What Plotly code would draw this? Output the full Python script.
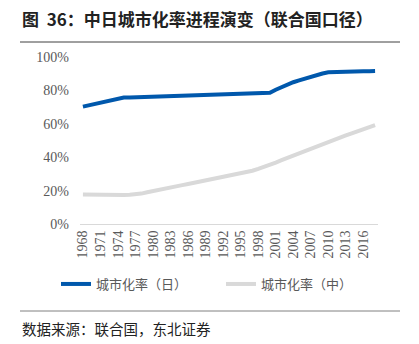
import plotly.graph_objects as go

years = list(range(1968, 2019))
japan = [70.3, 71.1, 71.9, 72.7, 73.4, 74.2, 74.9, 75.7, 75.8, 75.9,
         76.0, 76.1, 76.2, 76.3, 76.4, 76.5, 76.6, 76.7, 76.8, 76.9,
         77.1, 77.2, 77.3, 77.4, 77.6, 77.7, 77.9, 78.0, 78.1, 78.2,
         78.4, 78.5, 78.6, 80.4, 82.1, 83.6, 84.9, 86.0, 87.1, 88.2,
         89.2, 90.1, 90.8, 91.0, 91.2, 91.3, 91.4, 91.4, 91.5, 91.5, 91.6]
china = [17.6, 17.5, 17.4, 17.3, 17.3, 17.3, 17.3, 17.4, 17.5, 17.7,
         18.2, 19.0, 19.8, 20.5, 21.2, 21.9, 22.6, 23.3, 24.0, 24.7,
         25.4, 26.0, 26.6, 27.2, 27.8, 28.5, 29.2, 30.0, 30.9, 31.9,
         33.0, 34.1, 35.4, 36.8, 38.2, 39.6, 41.0, 42.4, 43.8, 45.2,
         46.5, 47.9, 49.2, 50.5, 51.8, 53.0, 54.3, 55.5, 56.7, 58.0, 59.2]
tick_years = list(range(1968, 2017, 3))
y_ticks = [0, 20, 40, 60, 80, 100]
y_labels = ["0%", "20%", "40%", "60%", "80%", "100%"]
names = ["城市化率（日）", "城市化率（中）"]
title_text = "图  36：中日城市化率进程演变（联合国口径）"
source_text = "数据来源：联合国，东北证券"

W, H = 419, 344
L, R, T, B = 80, 41, 57, 120
pw = W - L - R
ph = H - T - B


def px(x):
    return (x - L) / pw


def py(y):
    return (H - B - y) / ph


serif = "Liberation Serif, Times New Roman, serif"
cjk = "Noto Sans CJK SC, sans-serif"

fig = go.Figure()
fig.add_trace(go.Scatter(x=years, y=japan, mode="lines", name=names[0],
                         line=dict(color="#0058AC", width=4)))
fig.add_trace(go.Scatter(x=years, y=china, mode="lines", name=names[1],
                         line=dict(color="#D9D9D9", width=4)))

fig.update_layout(
    width=W, height=H,
    margin=dict(l=L, r=R, t=T, b=B, pad=0),
    paper_bgcolor="white", plot_bgcolor="white",
    showlegend=True,
    legend=dict(orientation="h", x=px(56), y=py(284), xanchor="left", yanchor="middle",
                font=dict(family=cjk, size=13, color="#595959"),
                entrywidth=120, entrywidthmode="pixels", itemwidth=30,
                bgcolor="rgba(0,0,0,0)"),
    xaxis=dict(range=[1967.5, 2018.5], tickmode="array", tickvals=tick_years,
               ticktext=[str(v) for v in tick_years], tickangle=-90,
               tickfont=dict(family=serif, size=14, color="#595959"),
               showgrid=False, zeroline=False, showline=True, linecolor="#D9D9D9",
               linewidth=1, ticks="", ticklen=0),
    yaxis=dict(range=[0, 100], tickmode="array", tickvals=y_ticks, ticktext=y_labels,
               tickfont=dict(family=serif, size=14, color="#595959"),
               showgrid=False, zeroline=False, showline=False, ticks="",
               ticklabelstandoff=10),
)

fig.add_annotation(text="<b>" + title_text + "</b>", xref="paper", yref="paper",
                   x=px(20), y=py(18), xanchor="left", yanchor="middle", showarrow=False,
                   font=dict(family=cjk, size=17, color="#222222"))
fig.add_annotation(text=source_text, xref="paper", yref="paper",
                   x=px(20), y=py(328), xanchor="left", yanchor="middle", showarrow=False,
                   font=dict(family=cjk, size=14.5, color="#222222"))
fig.add_shape(type="line", xref="paper", yref="paper", x0=px(20), x1=px(400),
              y0=py(42), y1=py(42), line=dict(color="#404040", width=1))
fig.add_shape(type="line", xref="paper", yref="paper", x0=px(20), x1=px(400),
              y0=py(311), y1=py(311), line=dict(color="#808080", width=1))

fig.write_html("out.html")
